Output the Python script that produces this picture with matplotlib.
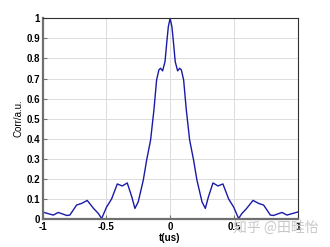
import numpy as np
import matplotlib.pyplot as plt

# half of the (symmetric) correlation curve
t_half = [0.0, 0.014, 0.027, 0.04, 0.059, 0.075, 0.088, 0.106, 0.127, 0.153,
          0.184, 0.21, 0.25, 0.276, 0.30, 0.336, 0.375, 0.414, 0.459, 0.498,
          0.537, 0.563, 0.60, 0.65, 0.694, 0.733, 0.786, 0.81, 0.877, 0.916, 1.0]
c_half = [1.0, 0.958, 0.875, 0.784, 0.738, 0.751, 0.743, 0.693, 0.543, 0.394,
          0.294, 0.195, 0.086, 0.053, 0.11, 0.18, 0.165, 0.175, 0.10, 0.06,
          0.003, 0.028, 0.053, 0.093, 0.078, 0.07, 0.02, 0.018, 0.033, 0.02, 0.035]

t = np.concatenate([-np.array(t_half[:0:-1]), t_half])
corr = np.concatenate([c_half[:0:-1], c_half])

xticks = [-1, -0.5, 0, 0.5, 1]
xticklabels = ['-1', '-0.5', '0', '0.5', '1']
yticks = np.arange(0, 1.01, 0.1)
yticklabels = ['0', '0.1', '0.2', '0.3', '0.4', '0.5', '0.6', '0.7', '0.8', '0.9', '1']

plt.rcParams['font.family'] = ['Liberation Sans', 'DejaVu Sans']
fig = plt.figure(figsize=(3.3, 2.47), dpi=100)
ax = fig.add_axes([0.129, 0.113, 0.773, 0.813])
ax.plot(t, corr, color='#1a1aa8', lw=1.0)
ax.set_xlim(-1, 1)
ax.set_ylim(0, 1)
ax.set_xticks(xticks)
ax.set_xticklabels(xticklabels, fontweight='bold', fontsize=7)
ax.set_yticks(yticks)
ax.set_yticklabels(yticklabels, fontweight='bold', fontsize=7)
ax.tick_params(direction='in', length=3, color='#707070', pad=2)
ax.grid(True, color='#dcdcdc', lw=0.7)
for s in ['left', 'bottom']:
    ax.spines[s].set_color('#707070')
    ax.spines[s].set_linewidth(1.6)
for s in ['top', 'right']:
    ax.spines[s].set_color('#303030')
    ax.spines[s].set_linewidth(0.8)
ax.set_xlabel('t(us)', fontweight='bold', fontsize=7, labelpad=1)
ax.set_ylabel('Corr/a.u.', fontsize=7, labelpad=2)

fig.text(0.705, 0.06, '知乎 @田畦怡', color='#c8c8c8', fontsize=10,
         family=['Noto Sans CJK SC', 'DejaVu Sans'])

fig.savefig('out.png', dpi=100)
